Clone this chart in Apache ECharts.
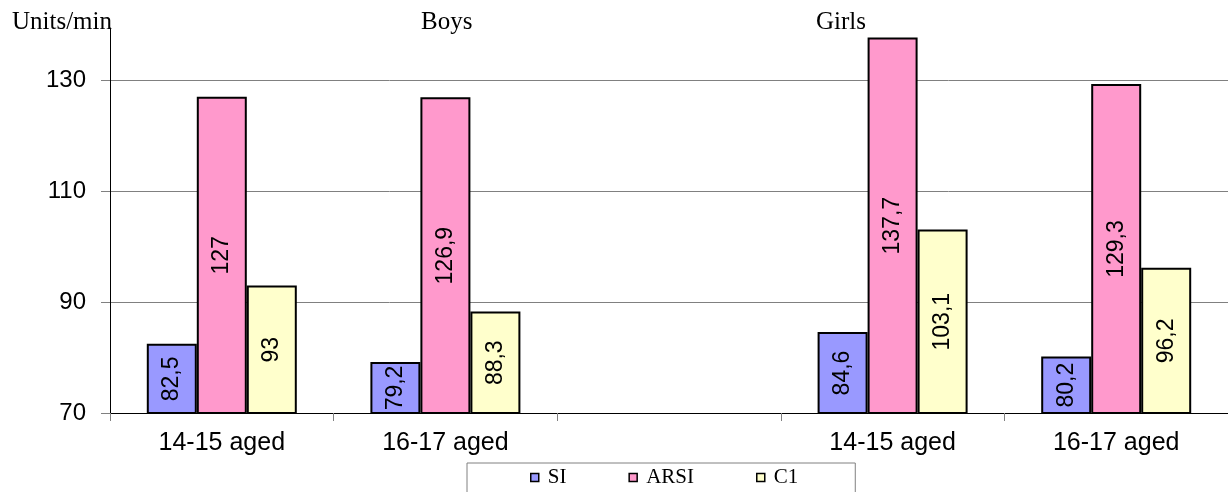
<!DOCTYPE html>
<html>
<head>
<meta charset="utf-8">
<script src="https://cdn.jsdelivr.net/npm/echarts@6/dist/echarts.min.js"></script>
<style>
  html, body { margin: 0; padding: 0; background: #fff; }
  #main { width: 1228px; height: 492px; }
</style>
</head>
<body>
<div id="main"></div>
<script>
// data
var categories = ['14-15 aged', '16-17 aged', '', '14-15 aged', '16-17 aged'];
var siValues   = [82.5, 79.2, null, 84.6, 80.2];
var arsiValues = [127, 126.9, null, 137.7, 129.3];
var c1Values   = [93, 88.3, null, 103.1, 96.2];
var yTicks = [70, 90, 110, 130];

var sans = '"Liberation Sans", Arial, sans-serif';
var serif = '"Liberation Serif", "Times New Roman", serif';

function barLabel() {
  return {
    show: true,
    position: 'inside',
    rotate: 90,
    color: '#000',
    fontFamily: sans,
    fontSize: 23,
    formatter: function (p) {
      return String(p.value).replace('.', ',');
    }
  };
}

function makeSeries(name, values, color) {
  return {
    name: name,
    type: 'bar',
    barWidth: 50,
    barGap: '0%',
    data: values,
    itemStyle: { color: color, borderColor: '#000', borderWidth: 2 },
    label: barLabel()
  };
}

var myChart = echarts.init(document.getElementById('main'));
var option = {
  animation: false,
  backgroundColor: '#fff',
  grid: { left: 110, right: 0, top: 28, bottom: 79 },
  graphic: [
    { type: 'text', left: 12, top: 10, style: { text: 'Units/min', font: '25px ' + serif, fill: '#000' } },
    { type: 'text', left: 421, top: 10, style: { text: 'Boys', font: '25px ' + serif, fill: '#000' } },
    { type: 'text', left: 816, top: 10, style: { text: 'Girls', font: '25px ' + serif, fill: '#000' } }
  ],
  legend: {
    left: 467,
    top: 463,
    padding: [4, 57, 20, 63],
    borderColor: '#808080',
    borderWidth: 1,
    itemWidth: 8,
    itemHeight: 8,
    itemGap: 62,
    icon: 'rect',
    itemStyle: { borderColor: '#000', borderWidth: 1.5 },
    textStyle: { fontFamily: serif, fontSize: 21, color: '#000', padding: [0, 0, 0, 4] },
    data: ['SI', 'ARSI', 'C1']
  },
  xAxis: {
    type: 'category',
    data: categories,
    axisLine: { lineStyle: { color: '#000', width: 1 } },
    axisTick: { show: true, length: 8, lineStyle: { color: '#808080' } },
    axisLabel: { color: '#000', fontFamily: sans, fontSize: 25, margin: 18, interval: 0 }
  },
  yAxis: {
    type: 'value',
    min: 70,
    max: 139.4,
    axisLine: { show: true, lineStyle: { color: '#000', width: 1 } },
    axisTick: { show: true, length: 9, customValues: yTicks, lineStyle: { color: '#808080' } },
    splitLine: { show: true, lineStyle: { color: '#808080', width: 1 } },
    axisLabel: { color: '#000', fontFamily: sans, fontSize: 24, margin: 24, customValues: yTicks }
  },
  series: [
    makeSeries('SI', siValues, '#9999ff'),
    makeSeries('ARSI', arsiValues, '#ff99cc'),
    makeSeries('C1', c1Values, '#ffffcc')
  ]
};
option && myChart.setOption(option);
</script>
</body>
</html>
